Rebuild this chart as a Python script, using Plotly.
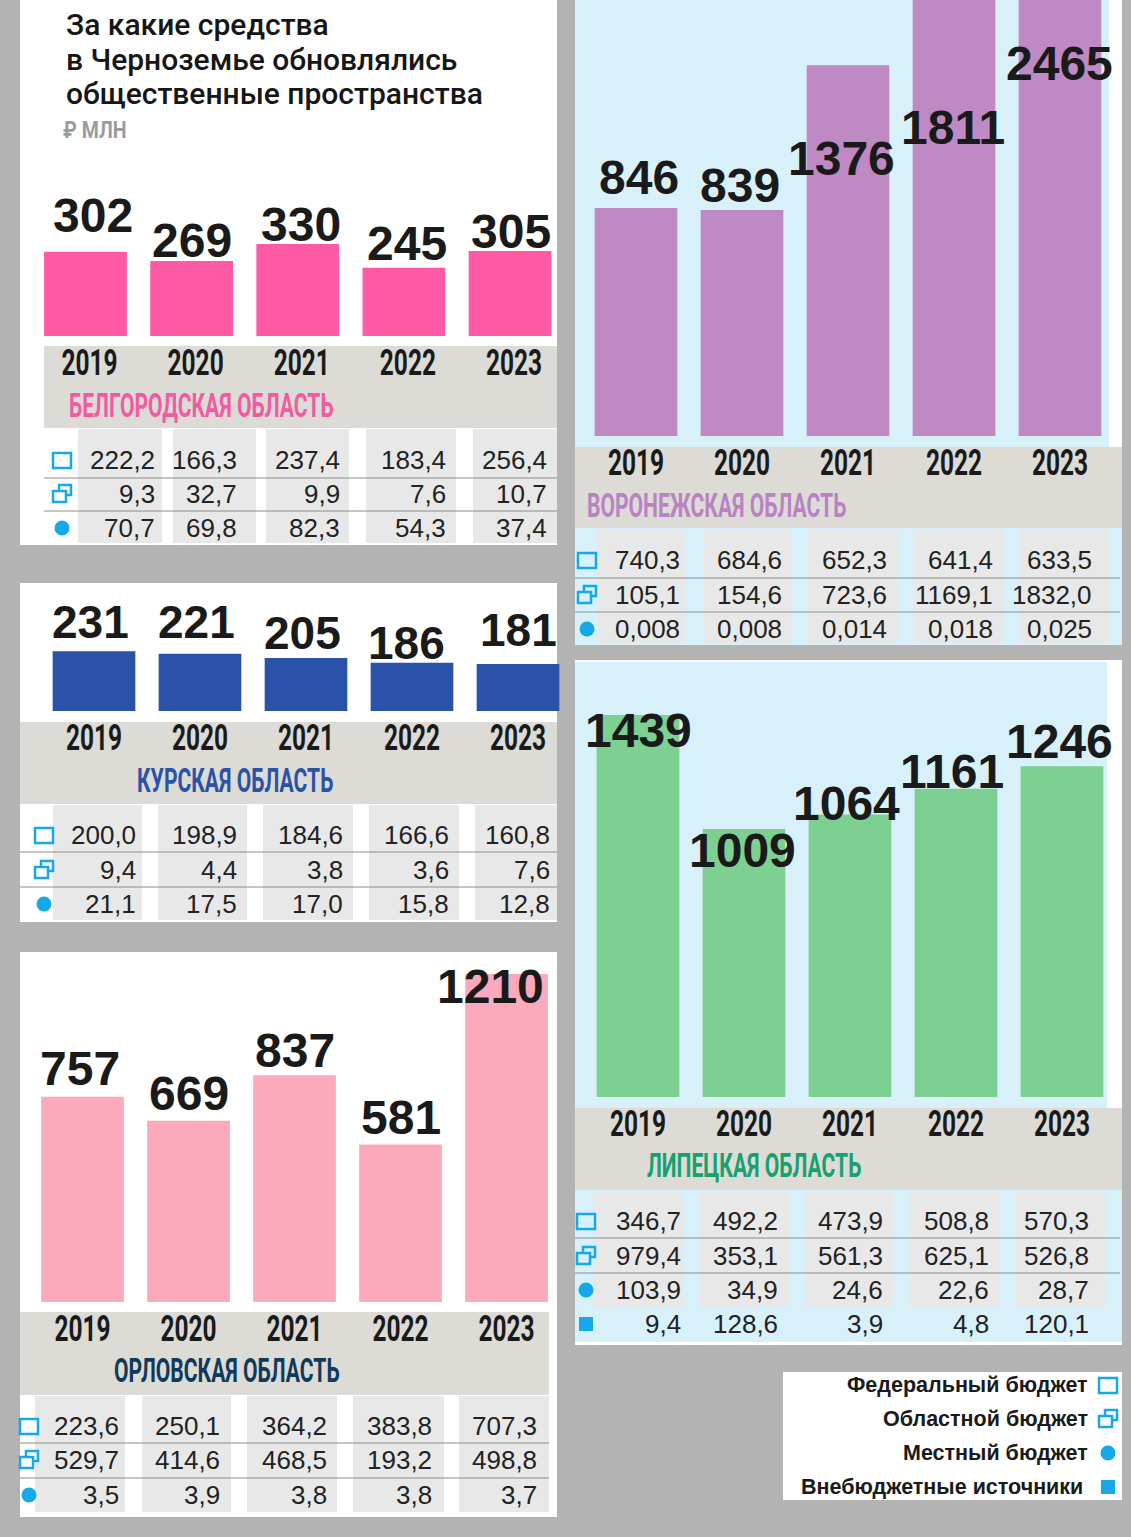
import plotly.graph_objects as go

W, H = 1131, 1537

# ---------------- DATA ----------------
YEARS = ["2019", "2020", "2021", "2022", "2023"]

BELG_TOTAL = [302, 269, 330, 245, 305]
BELG_FED = [222.2, 166.3, 237.4, 183.4, 256.4]
BELG_REG = [9.3, 32.7, 9.9, 7.6, 10.7]
BELG_LOC = [70.7, 69.8, 82.3, 54.3, 37.4]

KURSK_TOTAL = [231, 221, 205, 186, 181]
KURSK_FED = [200.0, 198.9, 184.6, 166.6, 160.8]
KURSK_REG = [9.4, 4.4, 3.8, 3.6, 7.6]
KURSK_LOC = [21.1, 17.5, 17.0, 15.8, 12.8]

OREL_TOTAL = [757, 669, 837, 581, 1210]
OREL_FED = [223.6, 250.1, 364.2, 383.8, 707.3]
OREL_REG = [529.7, 414.6, 468.5, 193.2, 498.8]
OREL_LOC = [3.5, 3.9, 3.8, 3.8, 3.7]

VORON_TOTAL = [846, 839, 1376, 1811, 2465]
VORON_FED = [740.3, 684.6, 652.3, 641.4, 633.5]
VORON_REG = [105.1, 154.6, 723.6, 1169.1, 1832.0]
VORON_LOC = [0.008, 0.008, 0.014, 0.018, 0.025]

LIP_TOTAL = [1439, 1009, 1064, 1161, 1246]
LIP_FED = [346.7, 492.2, 473.9, 508.8, 570.3]
LIP_REG = [979.4, 353.1, 561.3, 625.1, 526.8]
LIP_LOC = [103.9, 34.9, 24.6, 22.6, 28.7]
LIP_EXTRA = [9.4, 128.6, 3.9, 4.8, 120.1]

REGION_NAMES = ["БЕЛГОРОДСКАЯ ОБЛАСТЬ", "КУРСКАЯ ОБЛАСТЬ", "ОРЛОВСКАЯ ОБЛАСТЬ",
                "ВОРОНЕЖСКАЯ ОБЛАСТЬ", "ЛИПЕЦКАЯ ОБЛАСТЬ"]
TITLE_LINES = ["За какие средства", "в Черноземье обновлялись", "общественные пространства"]
UNIT = "₽ МЛН"
LEGEND_LABELS = ["Федеральный бюджет", "Областной бюджет", "Местный бюджет", "Внебюджетные источники"]

# ---------------- STYLE ----------------
BG = "#b3b3b3"
LIGHTBLUE = "#d7f0fa"
BAND = "#dcdbd5"
STRIPE = "#e8e8e8"
LINE = "#8c8c8c"
ICON = "#15a9e9"
TXT = "#1a1a1a"
SANS = "Liberation Sans, Arial, sans-serif"
# "CondNN" is a non-existent family used as a marker: the page script narrows such text to NN %
YEAR_FONT = "Cond68, Roboto, Liberation Sans, sans-serif"
NAME_FONT = "Cond62, Roboto, Liberation Sans, sans-serif"
UNIT_FONT = "Cond85, Roboto, Liberation Sans, sans-serif"


def px(x):
    return x / W


def py(y):
    return 1 - y / H


shapes = []
annotations = []


def rect(x0, y0, x1, y1, fill, line_color=None, lw=0, layer="below"):
    shapes.append(dict(type="rect", xref="paper", yref="paper",
                       x0=px(x0), x1=px(x1), y0=py(y1), y1=py(y0),
                       fillcolor=fill, layer=layer,
                       line=dict(width=lw, color=line_color or fill)))


def hline(x0, x1, y):
    shapes.append(dict(type="line", xref="paper", yref="paper",
                       x0=px(x0), x1=px(x1), y0=py(y), y1=py(y), layer="below",
                       line=dict(width=1, color=LINE)))


def circle(cx, cy, r):
    shapes.append(dict(type="circle", xref="paper", yref="paper",
                       x0=px(cx - r), x1=px(cx + r), y0=py(cy + r), y1=py(cy - r),
                       fillcolor=ICON, line=dict(width=0), layer="above"))


def icon(kind, cx, cy, bg):
    if kind == "fed":
        rect(cx - 9, cy - 7, cx + 9, cy + 8, bg, ICON, 2.5, "above")
    elif kind == "reg":
        rect(cx - 3, cy - 9, cx + 9, cy + 1, bg, ICON, 2.5, "above")
        rect(cx - 9, cy - 3, cx + 4, cy + 8, bg, ICON, 2.5, "above")
    elif kind == "loc":
        circle(cx, cy, 7.5)
    else:
        rect(cx - 7, cy - 7, cx + 7, cy + 7, ICON, ICON, 0, "above")


def text(x, y, s, size, color=TXT, family=SANS, weight="normal", xanchor="left"):
    annotations.append(dict(x=px(x), y=py(y), xref="paper", yref="paper",
                            text=s, showarrow=False, xanchor=xanchor, yanchor="middle",
                            align=xanchor if xanchor != "center" else "center",
                            font=dict(family=family, size=size, color=color, weight=weight)))


def fmt(v, d):
    return f"{v:.{d}f}".replace(".", ",")


panels = [
    dict(total=BELG_TOTAL, rows=[("fed", BELG_FED, 1), ("reg", BELG_REG, 1), ("loc", BELG_LOC, 1)],
         color="#ff5aa6", name=REGION_NAMES[0], name_color="#f25aa3", name_x=67, name_y=405,
         box=(20, 0, 557, 545), top_bg=None, band=(44, 346, 557, 428),
         dom_x=(32.4, 563.1), bottom=336, top=150, ppu=0.279,
         label_y=[215, 240, 225, 243, 232], label_dx=[8, 0, 3, 3, 1], label_size=48,
         table_bg=None, stripe_y=(429, 543),
         stripes=[(78, 162), (173, 256), (266, 349), (366, 456), (473, 557)],
         num_right=[157, 239, 342, 448, 549], row_y=[460, 494, 528], line_y=[478, 511],
         line_x=(44, 557), icon_x=62, icon_bg="white", year_shift=4),
    dict(total=KURSK_TOTAL, rows=[("fed", KURSK_FED, 1), ("reg", KURSK_REG, 1), ("loc", KURSK_LOC, 1)],
         color="#2a52a8", name=REGION_NAMES[1], name_color="#2b52a5", name_x=135, name_y=780,
         box=(20, 583, 557, 922), top_bg=None, band=(20, 722, 557, 804),
         dom_x=(41, 571), bottom=711, top=590, ppu=0.259,
         label_y=[622, 622, 633, 643, 630], label_dx=[-4, -4, -4, -6, 0], label_size=46,
         table_bg=None, stripe_y=(805, 920),
         stripes=[(53, 142), (158, 247), (263, 353), (369, 459), (475, 557)],
         num_right=[138, 239, 345, 451, 552], row_y=[835, 870, 904], line_y=[852, 887],
         line_x=(20, 557), icon_x=44, icon_bg="white", year_shift=0),
    dict(total=OREL_TOTAL, rows=[("fed", OREL_FED, 1), ("reg", OREL_REG, 1), ("loc", OREL_LOC, 1)],
         color="#fcaabb", name=REGION_NAMES[2], name_color="#0f3a5a", name_x=112, name_y=1370,
         box=(20, 952, 557, 1517), top_bg=None, band=(20, 1312, 549, 1395),
         dom_x=(29.5, 559.5), bottom=1302, top=960, ppu=0.271,
         label_y=[1068, 1093, 1050, 1117, 986], label_dx=[-3, 0, 0, 0, -16], label_size=48,
         table_bg=None, stripe_y=(1396, 1512),
         stripes=[(35, 125), (142, 231), (247, 337), (353, 444), (459, 549)],
         num_right=[121, 222, 329, 434, 539], row_y=[1426, 1460, 1495], line_y=[1443, 1478],
         line_x=(20, 549), icon_x=29, icon_bg="white", year_shift=0),
    dict(total=VORON_TOTAL, rows=[("fed", VORON_FED, 1), ("reg", VORON_REG, 1), ("loc", VORON_LOC, 3)],
         color="#bf8ac3", name=REGION_NAMES[3], name_color="#b983c3", name_x=585, name_y=505,
         box=(575, 0, 1122, 645), top_bg=(575, 0, 1109, 447), band=(575, 447, 1122, 528),
         dom_x=(583, 1113), bottom=436, top=0, ppu=0.2695,
         label_y=[177, 185, 158, 127, 63], label_dx=[3, -2, -7, -1, -1], label_size=48,
         table_bg=(575, 528, 1122, 645), stripe_y=(530, 643),
         stripes=[(597, 686), (703, 792), (808, 898), (914, 1004), (1020, 1109)],
         num_right=[682, 784, 889, 995, 1094], row_y=[560, 595, 629], line_y=[578, 612],
         line_x=(575, 1120), icon_x=587, icon_bg=LIGHTBLUE, year_shift=0),
    dict(total=LIP_TOTAL, rows=[("fed", LIP_FED, 1), ("reg", LIP_REG, 1), ("loc", LIP_LOC, 1), ("ext", LIP_EXTRA, 1)],
         color="#7dcf92", name=REGION_NAMES[4], name_color="#17a071", name_x=645, name_y=1165,
         box=(575, 660, 1122, 1345), top_bg=(575, 662, 1107, 1108), band=(575, 1108, 1122, 1190),
         dom_x=(585, 1115), bottom=1097, top=665, ppu=0.2655,
         label_y=[730, 851, 803, 772, 741], label_dx=[0, -2, -4, -4, -3], label_size=48,
         table_bg=(575, 1190, 1122, 1342), stripe_y=(1192, 1307),
         stripes=[(593, 684), (699, 789), (805, 894), (910, 1000), (1016, 1106)],
         num_right=[683, 780, 885, 991, 1091], row_y=[1221, 1256, 1290, 1324], line_y=[1238, 1273],
         line_x=(575, 1120), icon_x=586, icon_bg=LIGHTBLUE, year_shift=0),
]

fig = go.Figure()
layout_axes = {}

for i, p in enumerate(panels, start=1):
    sfx = "" if i == 1 else str(i)
    # backgrounds
    rect(*p["box"], "white")
    if p["top_bg"]:
        rect(*p["top_bg"], LIGHTBLUE)
    rect(*p["band"], BAND)
    if p["table_bg"]:
        rect(*p["table_bg"], LIGHTBLUE)
    for (sx0, sx1) in p["stripes"]:
        rect(sx0, p["stripe_y"][0], sx1, p["stripe_y"][1], STRIPE)
    for ly in p["line_y"]:
        hline(p["line_x"][0], p["line_x"][1], ly)

    # bars
    fig.add_trace(go.Bar(x=YEARS, y=p["total"], marker=dict(color=p["color"], line=dict(width=0)),
                         xaxis="x" + sfx, yaxis="y" + sfx, hoverinfo="x+y"))
    ymax = (p["bottom"] - p["top"]) / p["ppu"]
    layout_axes["xaxis" + sfx] = dict(
        domain=[px(p["dom_x"][0]), px(p["dom_x"][1])], anchor="y" + sfx,
        type="category", range=[-0.5, len(YEARS) - 0.5], automargin=False,
        showgrid=False, zeroline=False, showline=False, ticks="",
        tickfont=dict(family=YEAR_FONT, size=36, color=TXT, weight="bold"),
        ticklabelstandoff=2, ticklabelshift=p["year_shift"], fixedrange=True)
    layout_axes["yaxis" + sfx] = dict(
        domain=[py(p["bottom"]), py(p["top"])], anchor="x" + sfx,
        range=[0, ymax], visible=False, fixedrange=True, automargin=False)

    # value labels (x = category index on this panel's axis)
    for k, v in enumerate(p["total"]):
        annotations.append(dict(x=k, xref="x" + sfx, y=py(p["label_y"][k]), yref="paper",
                                text=str(v), showarrow=False, xanchor="center", yanchor="middle",
                                xshift=p["label_dx"][k],
                                font=dict(family=SANS, size=p["label_size"], color=TXT, weight="bold")))
    # region name
    text(p["name_x"], p["name_y"], p["name"], 34, p["name_color"], NAME_FONT, "bold")

    # table
    for r, (kind, vals, dec) in enumerate(p["rows"]):
        ry = p["row_y"][r]
        if kind == "ext":
            rect(p["line_x"][0], ry - 17, p["table_bg"][2], ry + 17, LIGHTBLUE)
        icon(kind, p["icon_x"], ry, p["icon_bg"])
        for c, v in enumerate(vals):
            text(p["num_right"][c], ry, fmt(v, dec), 26, "#222222", SANS, "normal", xanchor="right")

# title
for j, line in enumerate(TITLE_LINES):
    text(64, [25, 60, 94][j], line, 30, "#161616", "Roboto, " + SANS, 500)
text(61, 131, UNIT, 23, "#9b9b9b", UNIT_FONT, "bold")

# legend box
rect(783, 1372, 1122, 1500, "white")
for j, (lab, kind) in enumerate(zip(LEGEND_LABELS, ["fed", "reg", "loc", "ext"])):
    yy = [1385, 1419, 1453, 1487][j]
    text(1090 if kind != "ext" else 1085, yy, lab, 21.5, TXT, SANS, "bold", xanchor="right")
    icon(kind, 1108, yy, "white")

fig.update_layout(
    template="none",
    width=W, height=H, margin=dict(l=0, r=0, t=0, b=0, pad=0),
    paper_bgcolor=BG, plot_bgcolor="rgba(0,0,0,0)",
    showlegend=False, bargap=0.22,
    shapes=shapes, annotations=annotations,
    **layout_axes,
)

POST = """
document.body.style.margin = '0';
var gd = document.getElementById('{plot_id}');
function condense() {
  gd.querySelectorAll('text').forEach(function (t) {
    var ff = t.style.fontFamily || '';
    var m = ff.match(/Cond(\\d+)/);
    if (!m) return;
    var cur = t.getAttribute('transform') || '';
    if (cur.indexOf('scale(') >= 0) return;
    var s = parseInt(m[1], 10) / 100;
    var x = parseFloat(t.getAttribute('x') || '0') || 0;
    t.setAttribute('transform', cur + ' translate(' + x + ',0) scale(' + s + ',1) translate(' + (-x) + ',0)');
  });
}
condense();
setTimeout(condense, 0);
setTimeout(condense, 300);
if (gd.on) { gd.on('plotly_afterplot', condense); }
"""

fig.write_html("out.html", post_script=POST, config={"displayModeBar": False})
